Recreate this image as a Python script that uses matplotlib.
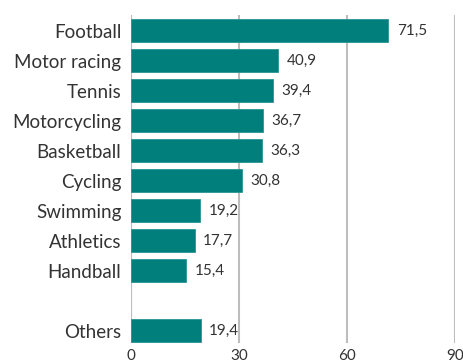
import matplotlib
matplotlib.use("Agg")
import matplotlib.pyplot as plt

categories = ["Football", "Motor racing", "Tennis", "Motorcycling", "Basketball",
              "Cycling", "Swimming", "Athletics", "Handball", "Others"]
values = [71.5, 40.9, 39.4, 36.7, 36.3, 30.8, 19.2, 17.7, 15.4, 19.4]
# slot positions; "Others" is set apart by one empty slot
positions = [0, 1, 2, 3, 4, 5, 6, 7, 8, 10]
x_ticks = [0, 30, 60, 90]

plt.rcParams["font.family"] = ["Lato", "DejaVu Sans"]
text_color = "#333333"
bar_color = "#007f7c"
grid_color = "#bdbdbd"

fig = plt.figure(figsize=(4.64, 3.63), dpi=100)
ax = fig.add_axes([131 / 464, 1 - 343 / 363, (455 - 131) / 464, (343 - 15) / 363])

ax.barh(positions, values, height=0.77, color=bar_color, edgecolor="#2a9692",
        linewidth=0.6, zorder=3)

for p, v in zip(positions, values):
    ax.annotate(f"{v:.1f}".replace(".", ","), xy=(v, p), xytext=(6, 0),
                textcoords="offset points", va="center", ha="left",
                fontsize=11, color=text_color)

ax.set_xlim(0, 90)
ax.set_ylim(10 + 12.5 / 30, -15.5 / 30)
ax.set_xticks(x_ticks)
ax.set_xticklabels([str(t) for t in x_ticks], fontsize=11, color=text_color)
ax.set_yticks(positions)
ax.set_yticklabels(categories, fontsize=13.5, color=text_color)
ax.tick_params(axis="both", length=0)
ax.tick_params(axis="y", pad=7)
ax.tick_params(axis="x", pad=4)

ax.xaxis.grid(True, color=grid_color, linewidth=1.5, zorder=0)
ax.set_axisbelow(True)
for s in ax.spines.values():
    s.set_visible(False)
ax.axvline(0, color=grid_color, linewidth=1.5, zorder=1)

fig.savefig("out.png", dpi=100)
